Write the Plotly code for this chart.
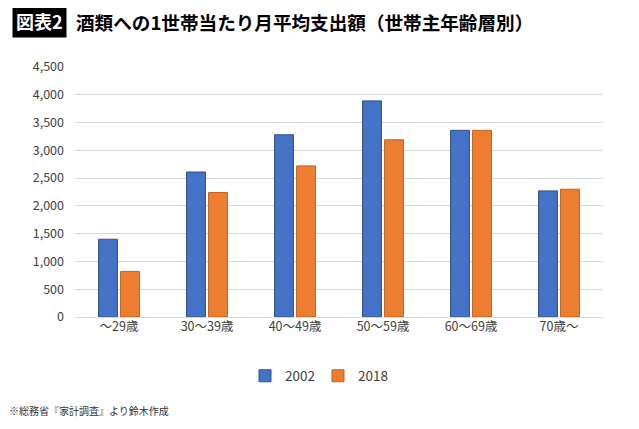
import plotly.graph_objects as go

categories = ["～29歳", "30～39歳", "40～49歳", "50～59歳", "60～69歳", "70歳～"]
values_2002 = [1400, 2610, 3280, 3890, 3360, 2270]
values_2018 = [820, 2240, 2720, 3190, 3360, 2300]
y_ticks = [0, 500, 1000, 1500, 2000, 2500, 3000, 3500, 4000, 4500]
y_tick_labels = ["0", "500", "1,000", "1,500", "2,000", "2,500", "3,000", "3,500", "4,000", "4,500"]

FONT = "Noto Sans CJK JP"
OFF = 8  # page body margin
W, H = 639 - OFF, 429 - OFF
# plot area in window pixels
PX0, PX1, PY0, PY1 = 75, 603, 67, 317
L, R = PX0 - OFF, (639 - PX1)
T, B = PY0 - OFF, (429 - PY1)
PW = PX1 - PX0
PH = PY1 - PY0

def px_x(px):
    return (px - PX0) / PW

def px_y(py):
    return (PY1 - py) / PH

fig = go.Figure()
fig.add_trace(go.Bar(
    x=categories, y=values_2002, name="2002",
    marker=dict(color="#4472C4", line=dict(color="#2F528F", width=1)),
))
fig.add_trace(go.Bar(
    x=categories, y=values_2018, name="2018",
    marker=dict(color="#ED7D31", line=dict(color="#C0641F", width=1)),
))

fig.update_layout(
    width=W, height=H,
    margin=dict(l=L, r=R, t=T, b=B, autoexpand=False),
    paper_bgcolor="white", plot_bgcolor="white",
    barmode="group", bargap=0.5, bargroupgap=0.14,
    font=dict(family=FONT, color="#404040", size=12),
    showlegend=True,
    legend=dict(orientation="h", x=px_x(318), xanchor="center",
                y=px_y(376), yanchor="middle",
                font=dict(size=13.5, color="#404040"), itemwidth=30,
                entrywidth=28, entrywidthmode="pixels",
                bgcolor="rgba(0,0,0,0)"),
    xaxis=dict(showgrid=False, showline=False, ticks="",
               tickfont=dict(size=12.5, color="#404040")),
    yaxis=dict(range=[0, 4500], tickvals=y_ticks, ticktext=y_tick_labels,
               showgrid=True, gridcolor="#D9D9D9", gridwidth=1,
               zeroline=True, zerolinecolor="#D9D9D9", zerolinewidth=1,
               showline=False, ticks="", ticklabelstandoff=10,
               tickfont=dict(size=12.5, color="#404040")),
)

fig.add_annotation(
    text="<b>図表2</b>", xref="paper", yref="paper",
    x=px_x(12), y=px_y(21), xanchor="left", yanchor="middle",
    showarrow=False, bgcolor="black", borderpad=3,
    font=dict(family=FONT, size=18, color="white"),
)
fig.add_annotation(
    text="<b>酒類への1世帯当たり月平均支出額（世帯主年齢層別）</b>",
    xref="paper", yref="paper",
    x=px_x(74), y=px_y(21), xanchor="left", yanchor="middle",
    showarrow=False,
    font=dict(family=FONT, size=18.6, color="black"),
)
fig.add_annotation(
    text="※総務省『家計調査』より鈴木作成",
    xref="paper", yref="paper",
    x=px_x(7), y=px_y(410), xanchor="left", yanchor="middle",
    showarrow=False,
    font=dict(family=FONT, size=10, color="#333333"),
)

fig.write_html("out.html")
